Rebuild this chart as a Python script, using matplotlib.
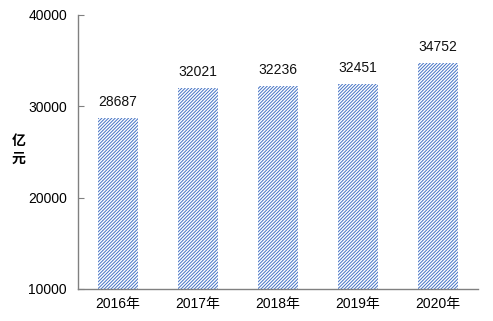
import matplotlib
matplotlib.use("Agg")
import matplotlib.pyplot as plt

years = ["2016年", "2017年", "2018年", "2019年", "2020年"]
values = [28687, 32021, 32236, 32451, 34752]
yticks = [10000, 20000, 30000, 40000]
ylabel = "亿\n元"

plt.rcParams['font.family'] = ['Liberation Sans', 'Noto Sans CJK SC', 'DejaVu Sans']
plt.rcParams['hatch.linewidth'] = 0.7

fig = plt.figure(figsize=(4.93, 3.21), dpi=100)
ax = fig.add_axes([78/493, 1 - 289/321, 400/493, 274/321])

x = list(range(len(years)))
ax.bar(x, [v - 10000 for v in values], bottom=10000, width=0.5,
       color='white', edgecolor='#4472C4', linewidth=0, hatch='/' * 10)

for xi, v in zip(x, values):
    ax.text(xi, v + 1000, str(v), ha='center', va='bottom', fontsize=10, color='#111111')

ax.set_xlim(-0.5, 4.5)
ax.set_ylim(10000, 40000)
ax.set_yticks(yticks)
ax.set_yticklabels([str(t) for t in yticks], fontsize=10)
ax.set_xticks(x)
ax.set_xticklabels(years, fontsize=10)
for lbl in ax.get_xticklabels():
    lbl.set_fontfamily(['Liberation Sans', 'Noto Sans CJK SC'])

ax.tick_params(axis='y', direction='in', length=4, color='#808080', pad=8)
ax.tick_params(axis='x', length=0, pad=6)
for s in ['top', 'right']:
    ax.spines[s].set_visible(False)
for s in ['left', 'bottom']:
    ax.spines[s].set_color('#808080')
    ax.spines[s].set_linewidth(1.0)

fig.text(19/493, 1 - 150/321, ylabel, ha='center', va='center', fontsize=10,
         fontweight='bold', family=['Noto Sans CJK SC'], linespacing=1.3)

fig.savefig("out.png", dpi=100)
